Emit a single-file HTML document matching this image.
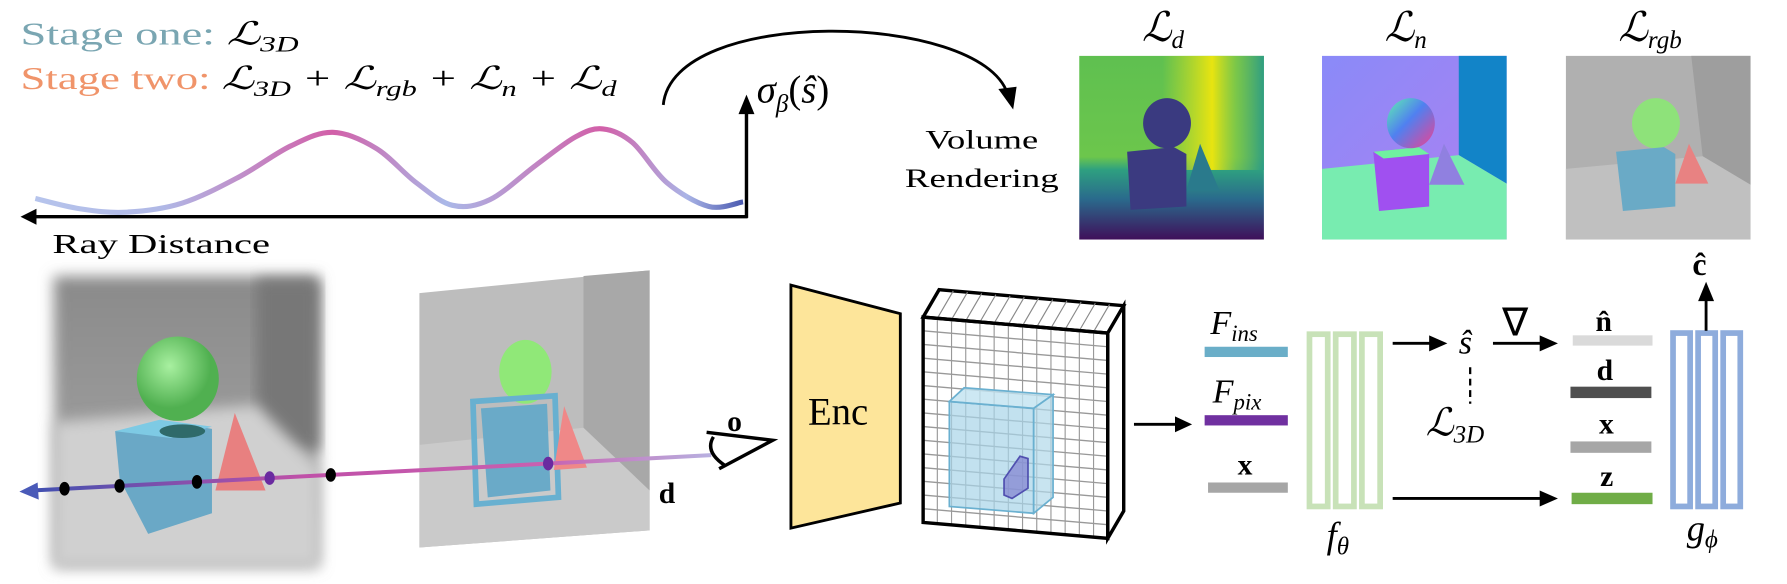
<!DOCTYPE html>
<html><head><meta charset="utf-8"><style>
html,body{margin:0;padding:0;background:#fff;overflow:hidden;}
svg{display:block;}
text{font-family:"Liberation Serif",serif;}
.m{font-style:italic;}
</style></head><body>
<svg id="fig" width="1787" height="584" viewBox="0 0 1568 512" preserveAspectRatio="none" xmlns="http://www.w3.org/2000/svg">
<defs>
<linearGradient id="curveG" x1="31" x2="652" y1="0" y2="0" gradientUnits="userSpaceOnUse">
 <stop offset="0" stop-color="#b6c4ec"/><stop offset="0.18" stop-color="#b0b8e6"/><stop offset="0.42" stop-color="#d25fa8"/><stop offset="0.58" stop-color="#aab8e8"/><stop offset="0.8" stop-color="#d25fa8"/><stop offset="0.92" stop-color="#aab4e6"/><stop offset="1" stop-color="#4a5ab0"/>
</linearGradient>
<linearGradient id="rayG" x1="0" x2="1"><stop offset="0" stop-color="#4050b0"/><stop offset="0.4" stop-color="#c050a8"/><stop offset="0.75" stop-color="#c860b0"/><stop offset="1" stop-color="#b8b0e0"/></linearGradient>
<linearGradient id="depthG" x1="0" y1="0" x2="0" y2="1"><stop offset="0" stop-color="#5fc050"/><stop offset="0.55" stop-color="#6cc64c"/><stop offset="0.62" stop-color="#2ea080"/><stop offset="0.78" stop-color="#2a6a8c"/><stop offset="1" stop-color="#3f0f5a"/></linearGradient>
<linearGradient id="depthY" x1="0" x2="1"><stop offset="0.45" stop-color="#d8e020" stop-opacity="0"/><stop offset="0.72" stop-color="#e8e410" stop-opacity="1"/><stop offset="0.85" stop-color="#80c848" stop-opacity="0.8"/><stop offset="1" stop-color="#2a9a88" stop-opacity="0.9"/></linearGradient>
<linearGradient id="normBg" x1="0" y1="0" x2="1" y2="1"><stop offset="0" stop-color="#8a8af8"/><stop offset="1" stop-color="#b080f0"/></linearGradient>
<linearGradient id="ballN" x1="0" y1="0" x2="1" y2="1"><stop offset="0" stop-color="#60f0b0"/><stop offset="0.45" stop-color="#5080f0"/><stop offset="1" stop-color="#f04090"/></linearGradient>
<linearGradient id="leftBg" x1="0" y1="0" x2="0" y2="1"><stop offset="0" stop-color="#8a8a8a"/><stop offset="1" stop-color="#a8a8a8"/></linearGradient>
<radialGradient id="ballG" cx="0.4" cy="0.35"><stop offset="0" stop-color="#a8f0a0"/><stop offset="1" stop-color="#50b050"/></radialGradient>
<filter id="blur"><feGaussianBlur stdDeviation="6"/></filter>
</defs>

<text x="18" y="39" font-size="28" fill="#7aa6b2" textLength="244" lengthAdjust="spacingAndGlyphs">Stage one: <tspan class="m" fill="#000">ℒ<tspan font-size="19" dy="6">3D</tspan></tspan></text>
<text x="18" y="78" font-size="28" fill="#f0946a" textLength="523" lengthAdjust="spacingAndGlyphs">Stage two: <tspan class="m" fill="#000">ℒ<tspan font-size="19" dy="6">3D</tspan><tspan dy="-6"> + ℒ</tspan><tspan font-size="19" dy="6">rgb</tspan><tspan dy="-6"> + ℒ</tspan><tspan font-size="19" dy="6">n</tspan><tspan dy="-6"> + ℒ</tspan><tspan font-size="19" dy="6">d</tspan></tspan></text>

<path id="curve" fill="none" stroke="url(#curveG)" stroke-width="4.5"/>
<line x1="28" y1="190" x2="656" y2="190" stroke="#000" stroke-width="3"/>
<polygon points="18,190 32,183 32,197" fill="#000"/>
<line x1="655" y1="191" x2="655" y2="98" stroke="#000" stroke-width="3"/>
<polygon points="655,83 648,100 662,100" fill="#000"/>
<text x="46" y="222" font-size="24" textLength="191" lengthAdjust="spacingAndGlyphs">Ray Distance</text>
<text x="664" y="90" font-size="34" class="m">σ<tspan font-size="22" dy="8">β</tspan><tspan dy="-8" font-style="normal">(</tspan>ŝ<tspan font-style="normal">)</tspan></text>
<path d="M582,92 C590,5 860,10 884,82" fill="none" stroke="#000" stroke-width="2.5"/>
<polygon points="889,96 876,78 892,76" fill="#000"/>
<text x="812" y="130" font-size="23" textLength="99" lengthAdjust="spacingAndGlyphs">Volume</text>
<text x="794" y="164" font-size="23" textLength="135" lengthAdjust="spacingAndGlyphs">Rendering</text>

<text x="1002" y="36" font-size="36" class="m">ℒ<tspan font-size="22" dy="6">d</tspan></text>
<text x="1215" y="36" font-size="36" class="m">ℒ<tspan font-size="22" dy="6">n</tspan></text>
<text x="1420" y="36" font-size="36" class="m">ℒ<tspan font-size="22" dy="6">rgb</tspan></text>

<g>
 <rect x="947" y="49" width="162" height="161" fill="url(#depthG)"/>
 <rect x="947" y="49" width="162" height="100" fill="url(#depthY)"/>
 <ellipse cx="1024" cy="108" rx="21" ry="22" fill="#3a3a80"/>
 <polygon points="989,133 1030,129 1041,135 1041,181 992,184" fill="#3b3a80"/>
 <polygon points="1053,126 1041,167 1070,167" fill="#2a7a8c"/>
</g>
<g>
 <rect x="1160" y="49" width="162" height="161" fill="url(#normBg)"/>
 <polygon points="1280,49 1322,49 1322,161 1280,136" fill="#1284c8"/>
 <polygon points="1160,148 1280,136 1322,161 1322,210 1160,210" fill="#78ecb0"/>
 <polygon points="1205,133 1245,129 1254,135 1254,181 1210,185" fill="#a050f0"/>
 <polygon points="1205,133 1245,129 1254,135 1214,139" fill="#70f0a0"/>
 <ellipse cx="1238" cy="108" rx="21" ry="22" fill="url(#ballN)"/>
 <polygon points="1267,126 1254,162 1285,162" fill="#9080e0"/>
</g>
<g>
 <rect x="1374" y="49" width="162" height="161" fill="#b0b0b0"/>
 <polygon points="1484,49 1536,49 1536,162 1494,137" fill="#9e9e9e"/>
 <polygon points="1374,148 1494,137 1536,162 1536,210 1374,210" fill="#c0c0c0"/>
 <ellipse cx="1453" cy="108" rx="21" ry="22" fill="#8ee27a"/>
 <polygon points="1418,133 1460,129 1470,135 1470,181 1424,185" fill="#6aaac6"/>
 <polygon points="1482,126 1470,161 1499,161" fill="#e88282"/>
</g>

<g>
 <rect x="47" y="242" width="233" height="255" fill="url(#leftBg)" filter="url(#blur)"/>
 <rect x="225" y="245" width="55" height="150" fill="#777" filter="url(#blur)"/>
 <polygon points="47,370 225,355 280,410 280,497 47,497" fill="#d0d0d0" filter="url(#blur)"/>
</g>
<g>
 <polygon points="101,378 150,370 186,376 186,450 130,468 105,420" fill="#6aa8c6"/>
 <polygon points="101,378 140,368 186,374 150,384" fill="#7ecae4"/>
 <ellipse cx="160" cy="378" rx="20" ry="6" fill="#2f6a6a"/>
 <polygon points="206,362 189,430 233,430" fill="#e88080"/>
 <ellipse cx="156" cy="332" rx="36" ry="37" fill="url(#ballG)"/>
</g>
<g>
 <polygon points="368,257 570,237 570,465 368,480" fill="#bdbdbd"/>
 <polygon points="512,242 570,237 570,430 512,400" fill="#a8a8a8"/>
 <polygon points="368,390 512,375 570,430 570,465 368,480" fill="#cacaca"/>
 <ellipse cx="461" cy="326" rx="23" ry="28" fill="#90e878"/>
 <polygon points="415,352 487,347 490,436 418,442" fill="none" stroke="#68b0d0" stroke-width="5"/>
 <polygon points="422,358 480,354 483,430 428,436" fill="#6aaac8"/>
 <polygon points="495,356 486,412 515,410" fill="#ef8888"/>
</g>
<line x1="28" y1="430" x2="624" y2="399" stroke="url(#rayG)" stroke-width="3.5"/>
<polygon points="17,431 33,423 34,438" fill="#4a5ab8"/>
<g id="pts"></g>
<text x="578" y="441" font-size="26" font-weight="bold">d</text>
<text x="638" y="378" font-size="26" font-weight="bold">o</text>
<path d="M620,379 L678,386 L631,411 M626,383 Q618,396 636,408" fill="none" stroke="#000" stroke-width="3"/>

<polygon points="694,250 790,275 790,441 694,463" fill="#fde59a" stroke="#000" stroke-width="2.5"/>
<text x="709" y="372" font-size="34">Enc</text>

<g id="grid"></g>

<line x1="995" y1="372" x2="1032" y2="372" stroke="#000" stroke-width="2.5"/>
<polygon points="1046,372 1031,365 1031,379" fill="#000"/>

<text x="1062" y="293" font-size="30" class="m">F<tspan font-size="20" dy="6">ins</tspan></text>
<rect x="1057" y="304" width="73" height="9" fill="#6aaec8"/>
<text x="1064" y="353" font-size="30" class="m">F<tspan font-size="20" dy="6">pix</tspan></text>
<rect x="1057" y="364" width="73" height="9" fill="#7030a0"/>
<text x="1086" y="416" font-size="26" font-weight="bold">x</text>
<rect x="1060" y="423" width="70" height="9" fill="#a6a6a6"/>

<g fill="none" stroke="#c8e2b8" stroke-width="5">
 <rect x="1149" y="293" width="16" height="151"/><rect x="1172" y="293" width="16" height="151"/><rect x="1195" y="293" width="16" height="151"/>
</g>
<text x="1164" y="480" font-size="32" class="m">f<tspan font-size="22" dy="6">θ</tspan></text>

<line x1="1222" y1="301" x2="1255" y2="301" stroke="#000" stroke-width="2.5"/>
<polygon points="1270,301 1254,294 1254,308" fill="#000"/>
<text x="1280" y="310" font-size="30" class="m">ŝ</text>
<text x="1318" y="294" font-size="34">∇</text>
<line x1="1310" y1="301" x2="1352" y2="301" stroke="#000" stroke-width="2.5"/>
<polygon points="1367,301 1351,294 1351,308" fill="#000"/>
<line x1="1290" y1="322" x2="1290" y2="354" stroke="#000" stroke-width="2" stroke-dasharray="6,4"/>
<text x="1251" y="382" font-size="34" class="m">ℒ<tspan font-size="22" dy="6">3D</tspan></text>

<line x1="1222" y1="437" x2="1352" y2="437" stroke="#000" stroke-width="2.5"/>
<polygon points="1367,437 1351,430 1351,444" fill="#000"/>

<text x="1400" y="290" font-size="26" font-weight="bold">n̂</text>
<rect x="1380" y="294" width="70" height="9" fill="#dadada"/>
<text x="1401" y="333" font-size="26" font-weight="bold">d</text>
<rect x="1378" y="339" width="71" height="10" fill="#4f4f4f"/>
<text x="1403" y="380" font-size="26" font-weight="bold">x</text>
<rect x="1378" y="387" width="71" height="10" fill="#a6a6a6"/>
<text x="1404" y="426" font-size="26" font-weight="bold">z</text>
<rect x="1379" y="432" width="71" height="10" fill="#70ad47"/>

<g fill="none" stroke="#8eacdc" stroke-width="5">
 <rect x="1468" y="292" width="15" height="152"/><rect x="1490" y="292" width="15" height="152"/><rect x="1512" y="292" width="15" height="152"/>
</g>
<text x="1480" y="474" font-size="32" class="m">g<tspan font-size="22" dy="6">ϕ</tspan></text>
<line x1="1497" y1="290" x2="1497" y2="262" stroke="#000" stroke-width="2.5"/>
<polygon points="1497,247 1490,264 1504,264" fill="#000"/>
<text x="1485" y="241" font-size="28" font-weight="bold">ĉ</text>
</svg>
<script>
// curve samples (x, y in figure units)
const curveX = [31, 70, 111, 160, 210, 255, 292, 330, 365, 397, 430, 470, 505, 529, 555, 585, 622, 652];
const curveY = [174, 183, 186, 178, 155, 128, 116, 130, 160, 180, 175, 145, 120, 113, 125, 160, 181, 177];
// ray sample points (fraction along the ray)
const sampleT = [0.048, 0.129, 0.243, 0.35, 0.44, 0.76];
const sampleKind = ['black', 'black', 'black', 'purple', 'black', 'purple'];

const NS = 'http://www.w3.org/2000/svg';
(function drawCurve() {
  const el = document.getElementById('curve');
  let d = 'M' + curveX[0] + ',' + curveY[0];
  for (let i = 0; i < curveX.length - 1; i++) {
    const p0x = curveX[Math.max(i - 1, 0)], p0y = curveY[Math.max(i - 1, 0)];
    const p1x = curveX[i], p1y = curveY[i];
    const p2x = curveX[i + 1], p2y = curveY[i + 1];
    const p3x = curveX[Math.min(i + 2, curveX.length - 1)], p3y = curveY[Math.min(i + 2, curveX.length - 1)];
    const c1x = p1x + (p2x - p0x) / 6, c1y = p1y + (p2y - p0y) / 6;
    const c2x = p2x - (p3x - p1x) / 6, c2y = p2y - (p3y - p1y) / 6;
    d += ' C' + c1x + ',' + c1y + ' ' + c2x + ',' + c2y + ' ' + p2x + ',' + p2y;
  }
  el.setAttribute('d', d);
})();

(function drawPoints() {
  const pts = document.getElementById('pts');
  sampleT.forEach((t, i) => {
    const c = document.createElementNS(NS, 'ellipse');
    c.setAttribute('cx', 28 + t * (624 - 28));
    c.setAttribute('cy', 430 + t * (399 - 430));
    c.setAttribute('rx', 4.5);
    c.setAttribute('ry', 6);
    c.setAttribute('fill', sampleKind[i] === 'purple' ? '#6a2aa0' : '#000');
    
    
    pts.appendChild(c);
  });
})();

(function drawGrid() {
  const g = document.getElementById('grid');
  function add(tag, attrs) {
    const e = document.createElementNS(NS, tag);
    for (const k in attrs) e.setAttribute(k, attrs[k]);
    g.appendChild(e);
    return e;
  }
  const fL = 810, fR = 972, fT = 278, fB = 458, sk = 14;
  const ox = 14, oy = -24;
  const frontFace = add('polygon', {points: `${fL},${fT} ${fR},${fT+sk} ${fR},${fB+sk} ${fL},${fB}`, fill: '#fff'});
  
  
  const topFace = add('polygon', {points: `${fL},${fT} ${fL+ox},${fT+oy} ${fR+ox},${fT+oy+sk} ${fR},${fT+sk}`, fill: '#fff', stroke: '#000', 'stroke-width': 3});
  
  
  const sideFace = add('polygon', {points: `${fR},${fT+sk} ${fR+ox},${fT+oy+sk} ${fR+ox},${fB+oy+sk} ${fR},${fB+sk}`, fill: '#fff', stroke: '#000', 'stroke-width': 3});
  
  
  const cols = 13, rows = 15;
  for (let i = 1; i < cols; i++) {
    const x = fL + (fR - fL) * i / cols, yo = sk * i / cols;
    add('line', {x1: x, y1: fT + yo, x2: x, y2: fB + yo, stroke: '#999', 'stroke-width': 1});
    add('line', {x1: x, y1: fT + yo, x2: x + ox, y2: fT + oy + yo, stroke: '#888', 'stroke-width': 1});
  }
  for (let j = 1; j < rows; j++) {
    const y = fT + (fB - fT) * j / rows;
    add('line', {x1: fL, y1: y, x2: fR, y2: y + sk, stroke: '#999', 'stroke-width': 1.2});
  }
  const cube = add('polygon', {points: '833,352 907,358 907,450 833,444', fill: '#a8d4e8', 'fill-opacity': 0.7, stroke: '#6ab0d0', 'stroke-width': 1.5});
  
  
  const cubeTop = add('polygon', {points: '833,352 846,340 924,346 907,358', fill: '#c0e2f0', 'fill-opacity': 0.8, stroke: '#6ab0d0', 'stroke-width': 1.5});
  
  
  const cubeSide = add('polygon', {points: '907,358 924,346 924,436 907,450', fill: '#b0d8ea', 'fill-opacity': 0.7, stroke: '#6ab0d0', 'stroke-width': 1.5});
  
  
  const vox = add('polygon', {points: '881,420 895,400 902,402 902,428 888,437 881,434', fill: '#8080d0', 'fill-opacity': 0.7, stroke: '#5050b0', 'stroke-width': 1.5});
  
  
  add('polygon', {points: `${fL},${fT} ${fR},${fT+sk} ${fR},${fB+sk} ${fL},${fB}`, fill: 'none', stroke: '#000', 'stroke-width': 3});
})();
</script>
</body></html>
